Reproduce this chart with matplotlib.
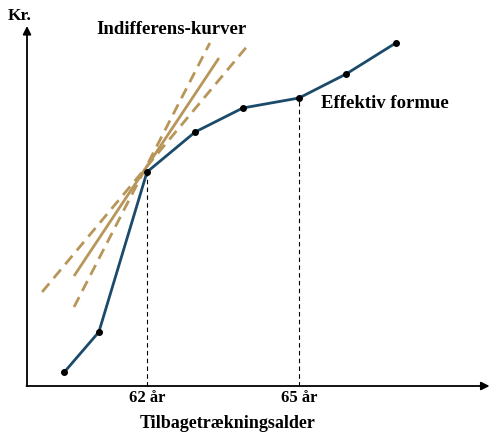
import matplotlib
matplotlib.use("Agg")
import matplotlib.pyplot as plt

plt.rcParams['font.family'] = ['Liberation Serif', 'DejaVu Serif']

# Effective wealth curve (age, kr in arbitrary units)
ages = [60.37, 61.05, 62.0, 62.95, 63.89, 65.0, 65.93, 66.91]
formue = [14, 54, 214, 254, 278, 288, 312, 343]

# Indifference curves (straight segments: start/end age and value)
ind_solid_x = [60.56, 63.42]
ind_solid_y = [110, 328]
ind_dash1_x = [60.56, 63.24]
ind_dash1_y = [79, 343]
ind_dash2_x = [59.93, 64.03]
ind_dash2_y = [94, 343]

tick_ages = [62, 65]
tick_labels = ["62 år", "65 år"]

navy = "#1b4a6b"
tan = "#b8965a"

fig = plt.figure(figsize=(4.91, 4.36), dpi=100)
ax = fig.add_axes([0, 0, 1, 1])
ax.set_xlim(59.099, 68.789)
ax.set_ylim(-50, 386)
ax.axis('off')

# axes arrows
x0 = 59.632
ax.annotate("", xy=(x0, 360), xytext=(x0, 0),
            arrowprops=dict(arrowstyle="-|>", color="black", lw=1.3,
                            mutation_scale=12, shrinkA=0, shrinkB=0))
ax.annotate("", xy=(68.76, 0), xytext=(x0 - 0.01, 0),
            arrowprops=dict(arrowstyle="-|>", color="black", lw=1.3,
                            mutation_scale=12, shrinkA=0, shrinkB=0))

# vertical guides
for a in tick_ages:
    yv = formue[ages.index(float(a))]
    ax.plot([a, a], [0, yv], color="black", lw=0.8, ls=(0, (4, 3)))

# indifference curves
ax.plot(ind_solid_x, ind_solid_y, color=tan, lw=2.0, solid_capstyle='butt')
ax.plot(ind_dash1_x, ind_dash1_y, color=tan, lw=2.0, ls=(0, (4, 2.5)))
ax.plot(ind_dash2_x, ind_dash2_y, color=tan, lw=2.0, ls=(0, (4, 2.5)))

# wealth curve
ax.plot(ages, formue, color=navy, lw=2.0, marker='o', markersize=4,
        markerfacecolor='black', markeredgecolor='black')

# labels
for a, lab in zip(tick_ages, tick_labels):
    ax.text(a, -12, lab, ha='center', va='center', fontsize=12, fontweight='bold')
ax.text(63.6, -37, "Tilbagetrækningsalder", ha='center', va='center',
        fontsize=13, fontweight='bold')
ax.text(59.49, 370, "Kr.", ha='center', va='center', fontsize=12.5, fontweight='bold')
ax.text(62.49, 356, "Indifferens-kurver", ha='center', va='center',
        fontsize=13.5, fontweight='bold')
ax.text(65.43, 282, "Effektiv formue", ha='left', va='center',
        fontsize=13.5, fontweight='bold')

fig.savefig("out.png", dpi=100)
